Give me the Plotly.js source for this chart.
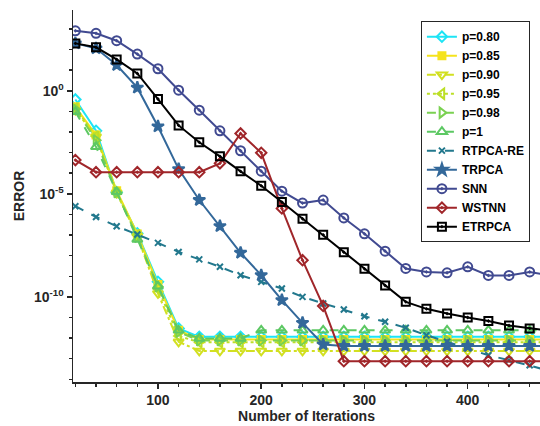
<!DOCTYPE html>
<html>
<head>
<meta charset="utf-8">
<script src="https://cdn.plot.ly/plotly-3.0.1.min.js"></script>
<style>html,body{margin:0;padding:0;background:#fff;}#chart{width:540px;height:426px;}</style>
</head>
<body>
<div id="chart"></div>
<script>
// Iterations
const iters = [20,40,60,80,100,120,140,160,180,200,220,240,260,280,300,320,340,360,380,400,420,440,460,480];
// log10(ERROR)
const p080 = [-0.42,-1.94,-4.92,-6.92,-9.27,-11.53,-11.94,-11.94,-11.94,-11.94,-11.94,-11.94,-11.94,-11.94,-11.94,-11.94,-11.94,-11.94,-11.94,-11.94,-11.94,-11.94,-11.94,-11.94];
const p085 = [-0.78,-2.15,-4.85,-6.95,-9.4,-11.62,-12.07,-12.07,-12.07,-12.07,-12.07,-12.07,-12.07,-12.07,-12.07,-12.07,-12.07,-12.07,-12.07,-12.07,-12.07,-12.07,-12.07,-12.07];
const p090 = [-0.94,-2.23,-4.95,-7.05,-9.83,-12.18,-12.62,-12.62,-12.62,-12.62,-12.62,-12.62,-12.62,-12.62,-12.62,-12.62,-12.62,-12.62,-12.62,-12.62,-12.62,-12.62,-12.62,-12.62];
const p095 = [-0.85,-2.2,-4.95,-7.0,-9.6,-11.9,-12.2,-12.2,-12.2,-12.2,-12.2,-12.2,-12.2,-12.2,-12.2,-12.2,-12.2,-12.2,-12.2,-12.2,-12.2,-12.2,-12.2,-12.2];
const p098 = [-0.9,-2.4,-4.93,-7.1,-9.5,-11.7,-12.12,-12.12,-12.12,-12.12,-12.12,-12.12,-12.12,-12.12,-12.12,-12.12,-12.12,-12.12,-12.12,-12.12,-12.12,-12.12,-12.12,-12.12];
const p100 = [-1.02,-2.72,-4.9,-7.21,-9.48,-11.62,-12.02,-12.02,-12.02,-11.62,-11.62,-11.62,-11.62,-11.62,-11.62,-11.62,-11.62,-11.62,-11.62,-11.62,-11.62,-11.62,-11.62,-11.62];
const rtpcaRE = [-5.6,-6.12,-6.57,-6.97,-7.38,-7.82,-8.18,-8.54,-8.95,-9.27,-9.59,-10.0,-10.32,-10.61,-10.94,-11.21,-11.5,-11.86,-12.18,-12.5,-12.83,-13.07,-13.32,-13.6];
const trpca = [2.30,2.06,1.25,0.15,-1.73,-3.8,-5.3,-6.57,-7.86,-8.95,-10.16,-11.26,-12.31,-12.38,-12.38,-12.38,-12.38,-12.38,-12.38,-12.38,-12.38,-12.38,-12.38,-12.38];
const snn = [2.91,2.79,2.43,1.78,1.07,0.03,-0.94,-1.94,-2.91,-3.9,-4.87,-5.45,-5.3,-6.17,-6.94,-7.78,-8.62,-8.79,-8.83,-8.54,-8.96,-8.96,-8.79,-8.96];
const wstnn = [-3.36,-3.95,-3.95,-3.95,-3.95,-3.95,-3.95,-3.52,-2.07,-3.01,-5.71,-8.22,-10.44,-13.12,-13.12,-13.12,-13.12,-13.12,-13.12,-13.12,-13.12,-13.12,-13.12,-13.12];
const etrpca = [2.30,2.11,1.52,0.84,-0.40,-1.68,-2.50,-3.18,-3.91,-4.61,-5.4,-6.21,-6.99,-7.83,-8.64,-9.45,-10.24,-10.58,-10.81,-11.0,-11.17,-11.39,-11.53,-11.65];

const names = ['p=0.80','p=0.85','p=0.90','p=0.95','p=0.98','p=1','RTPCA-RE','TRPCA','SNN','WSTNN','ETRPCA'];
const series = [p080,p085,p090,p095,p098,p100,rtpcaRE,trpca,snn,wstnn,etrpca];
const colors = ['#1de4f5','#f5e31c','#d2e021','#bcdf27','#7ad151','#5cc863','#22788d','#33689a','#414a91','#a0262a','#000000'];
const symbols = ['diamond-open','square','triangle-down-open','triangle-left-open','triangle-right-open','triangle-up-open','x-thin-open','star','circle-open-dot','diamond-open-dot','square-open-dot'];
const dashes = ['solid','solid','dashdot','dot','dash','dash','dash','solid','solid','solid','solid'];
const msizes = [8,7,9,9,9,9,6,9,9,8,8];

const traces = names.map((n,i)=>({
  x: iters,
  y: series[i].map(v=>Math.pow(10,v)),
  name: n,
  type: 'scatter',
  mode: 'lines+markers',
  line: {color: colors[i], width: 2, dash: dashes[i]},
  marker: {symbol: symbols[i], size: msizes[i], color: colors[i], line: {color: colors[i], width: 2}},
  cliponaxis: true
}));

const xMajor = [100,200,300,400];
const xMinor = [20,40,60,80,120,140,160,180,220,240,260,280,320,340,360,380,420,440,460];
const yMajorExp = [-10,-5,0];
const yMinorExp = [-14,-13,-12,-11,-9,-8,-7,-6,-4,-3,-2,-1,1,2,3];

const tfont = {family: 'Liberation Sans, Arial, sans-serif', size: 14, color: '#262626', weight: 'bold'};

const layout = {
  width: 540, height: 426,
  margin: {l: 73, r: 0, t: 10, b: 44},
  paper_bgcolor: '#fff', plot_bgcolor: '#fff',
  font: {family: 'Liberation Sans, Arial, sans-serif', size: 14, color: '#262626'},
  showlegend: true,
  legend: {
    x: 0.745, y: 0.97, xanchor: 'left', yanchor: 'top',
    bgcolor: '#fff', bordercolor: '#262626', borderwidth: 1,
    font: {family: 'Liberation Sans, Arial, sans-serif', size: 12, color: '#000', weight: 'bold'},
    tracegroupgap: 0, itemwidth: 30
  },
  xaxis: {
    range: [17.7, 470],
    tickmode: 'array', tickvals: xMajor, ticktext: xMajor.map(String),
    ticks: 'outside', ticklen: 5, tickwidth: 1.5, tickcolor: '#262626',
    minor: {tickmode: 'array', tickvals: xMinor, ticks: 'outside', ticklen: 3, tickwidth: 1.5, tickcolor: '#262626', showgrid: false},
    showline: true, linecolor: '#262626', linewidth: 1.5,
    showgrid: false, zeroline: false,
    tickfont: tfont,
    title: {text: 'Number of Iterations', font: tfont, standoff: 4}
  },
  yaxis: {
    type: 'log',
    range: [-14.13, 3.92],
    tickmode: 'array', tickvals: yMajorExp.map(e=>Math.pow(10,e)), ticktext: yMajorExp.map(e=>'10<sup>'+e+'</sup>'),
    ticks: 'outside', ticklen: 5, tickwidth: 1.5, tickcolor: '#262626',
    minor: {tickmode: 'array', tickvals: yMinorExp.map(e=>Math.pow(10,e)), ticks: 'outside', ticklen: 3, tickwidth: 1.5, tickcolor: '#262626', showgrid: false},
    showline: true, linecolor: '#262626', linewidth: 1.5,
    showgrid: false, zeroline: false,
    tickfont: tfont,
    title: {text: 'ERROR', font: tfont, standoff: 6}
  }
};

Plotly.newPlot('chart', traces, layout, {displayModeBar: false, staticPlot: true});
</script>
</body>
</html>
